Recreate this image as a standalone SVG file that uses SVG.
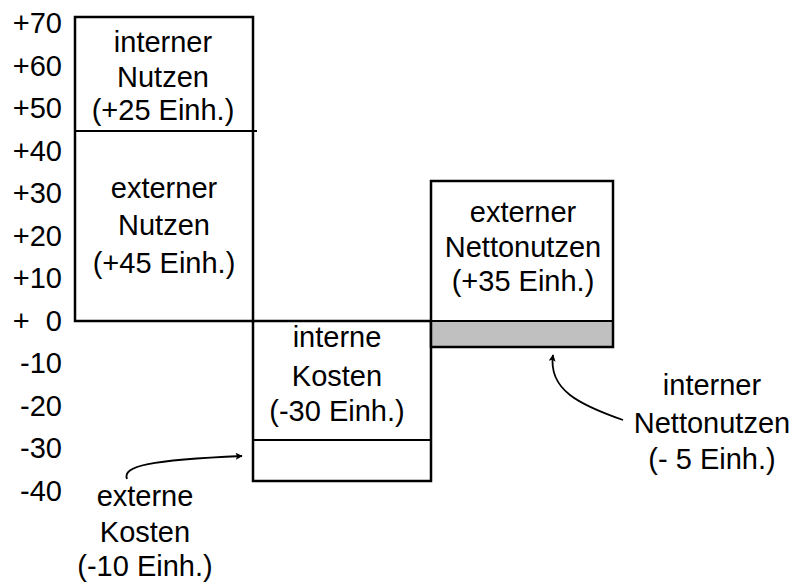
<svg xmlns="http://www.w3.org/2000/svg" width="793" height="584" viewBox="0 0 793 584">
<style>
text{font-family:"Liberation Sans",Arial,sans-serif;font-size:29px;fill:#000}
.ax{text-anchor:end}
.c{text-anchor:middle}
.box{fill:none;stroke:#000;stroke-width:2.5}
.ln{stroke:#000;stroke-width:2}
.cn{fill:none;stroke:#000;stroke-width:1.8}
</style>
<defs>
<marker id="ah" viewBox="0 0 10 10" refX="9" refY="5" markerWidth="12" markerHeight="7" orient="auto" markerUnits="userSpaceOnUse">
<path d="M0,0 L10,5 L0,10 L2,5 z" fill="#000"/>
</marker>
</defs>
<g id="axis">
<text class="ax" x="62" y="33">+70</text>
<text class="ax" x="62" y="76">+60</text>
<text class="ax" x="62" y="118">+50</text>
<text class="ax" x="62" y="161">+40</text>
<text class="ax" x="62" y="203">+30</text>
<text class="ax" x="62" y="246">+20</text>
<text class="ax" x="62" y="288">+10</text>
<text class="ax" x="62" y="331">+&#160; 0</text>
<text class="ax" x="62" y="373">-10</text>
<text class="ax" x="62" y="416">-20</text>
<text class="ax" x="62" y="458">-30</text>
<text class="ax" x="62" y="501">-40</text>
</g>
<g id="nutzen">
<rect class="box" x="75" y="17" width="178" height="304"/>
<line class="ln" x1="75" y1="131" x2="257" y2="131"/>
<text class="c" x="163" y="52">interner</text>
<text class="c" x="163" y="87">Nutzen</text>
<text class="c" x="163" y="120">(+25 Einh.)</text>
<text class="c" x="164" y="198">externer</text>
<text class="c" x="164" y="235">Nutzen</text>
<text class="c" x="164" y="273">(+45 Einh.)</text>
</g>
<g id="kosten">
<rect class="box" x="253" y="321" width="178" height="160"/>
<line class="ln" x1="253" y1="440" x2="431" y2="440"/>
<text class="c" x="337" y="347">interne</text>
<text class="c" x="337" y="386">Kosten</text>
<text class="c" x="337" y="421">(-30 Einh.)</text>
</g>
<g id="netto">
<rect x="431" y="321" width="182" height="26" fill="#c0c0c0"/>
<rect class="box" x="431" y="181" width="182" height="166"/>
<line class="ln" x1="431" y1="321" x2="613" y2="321"/>
<text class="c" x="523" y="222">externer</text>
<text class="c" x="523" y="257">Nettonutzen</text>
<text class="c" x="523" y="291">(+35 Einh.)</text>
</g>
<g id="label-interner-netto">
<text class="c" x="712" y="395">interner</text>
<text class="c" x="712" y="433">Nettonutzen</text>
<text class="c" x="712" y="469">(- 5 Einh.)</text>
</g>
<g id="label-externe-kosten">
<text class="c" x="145" y="506">externe</text>
<text class="c" x="145" y="542">Kosten</text>
<text class="c" x="145" y="576">(-10 Einh.)</text>
</g>
<g id="connectors">
<path class="cn" d="M127,479 C122,466 150,460 242,456" marker-end="url(#ah)"/>
<path class="cn" d="M623,420 C580,405 548,390 553,355" marker-end="url(#ah)"/>
</g>
</svg>
